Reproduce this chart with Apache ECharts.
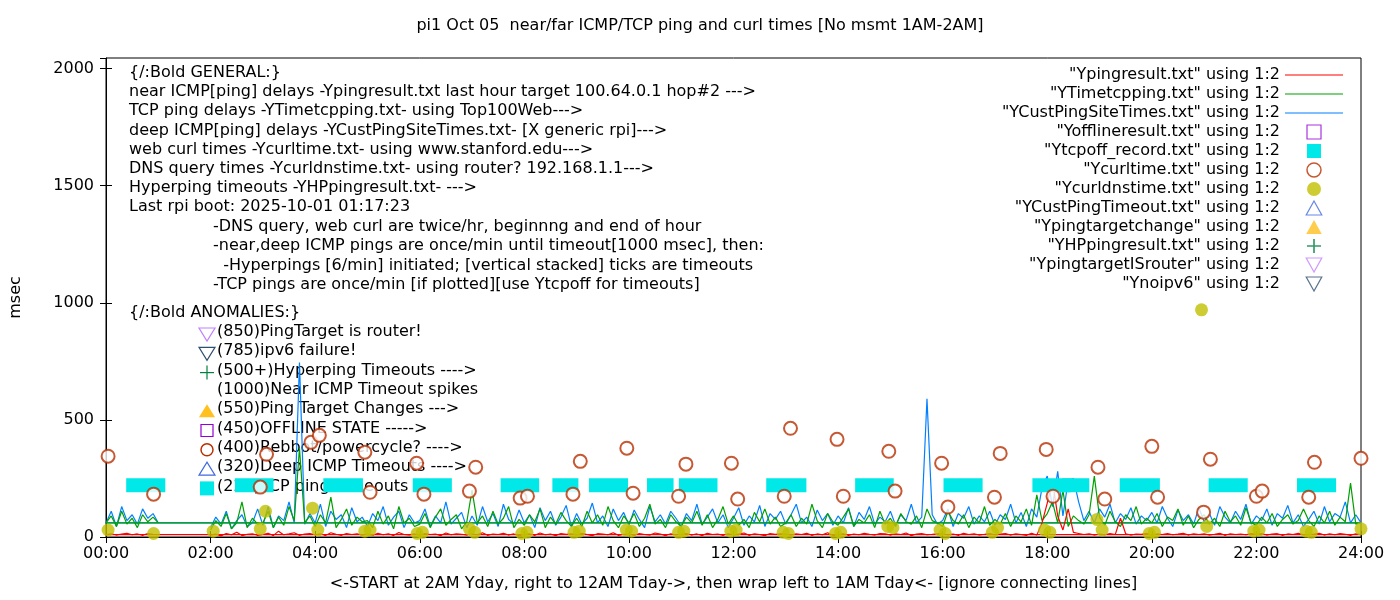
<!DOCTYPE html>
<html>
<head>
<meta charset="utf-8">
<script src="https://cdn.jsdelivr.net/npm/echarts@6/dist/echarts.min.js"></script>
<style>html,body{margin:0;padding:0;background:#fff}#main{width:1400px;height:600px}</style>
</head>
<body>
<div id="main"></div>
<script>
var myChart = echarts.init(document.getElementById('main'));
var FONT = 'DejaVu Sans';
var FS = 16;

// samples every 6 min: 2AM..24:00, then wrap 0:00..1:00
var blue = [
 40,85,55,110,35,70,95,45,60,120,
 50,130,40,90,70,150,60,745,55,100,
 60,140,45,110,75,95,40,125,65,85,
 45,100,70,130,50,85,110,40,95,60,
 70,120,45,90,60,150,55,80,105,40,
 90,50,130,65,100,45,140,75,55,115,
 60,95,40,125,70,110,50,85,135,45,
 100,55,80,145,60,90,45,120,70,105,
 50,115,75,40,130,65,95,55,110,80,
 45,100,70,140,55,85,120,60,95,40,
 80,125,50,90,65,135,45,100,75,110,
 55,95,140,60,85,45,115,70,100,50,
 90,60,125,45,105,75,130,55,85,65,
 110,50,95,70,140,60,85,590,95,55,
 70,120,45,100,80,130,55,90,65,110,
 50,95,75,140,60,105,45,120,85,210,
 260,130,280,90,240,250,150,70,110,60,
 120,85,140,60,100,75,125,55,90,70,
 105,60,130,80,45,115,70,95,55,125,
 65,100,50,130,85,60,110,75,140,55,
 90,70,120,50,100,80,135,60,95,45,
 75,110,55,130,65,100,85,150,60,95,
 60,
 60,110,45,130,70,95,55,120,80,100,
 60];
var green = [
 30,70,45,100,35,60,150,40,80,55,
 60,110,40,85,50,130,70,380,60,90,
 45,95,60,170,40,75,120,50,85,65,
 70,40,110,55,90,35,130,60,80,45,
 55,100,40,85,120,50,75,95,35,65,
 200,60,90,45,110,55,80,130,40,75,
 50,95,65,120,40,85,55,105,70,45,
 80,45,110,60,95,50,130,70,40,90,
 60,100,45,80,140,55,75,40,95,65,
 45,85,60,110,50,95,40,75,130,55,
 90,50,75,40,105,65,120,55,85,45,
 60,95,45,80,55,140,70,40,100,65,
 50,85,120,45,75,60,95,40,110,55,
 80,45,100,65,55,90,40,120,70,60,
 45,110,70,55,95,40,85,60,130,50,
 75,55,100,45,90,65,120,50,180,70,
 100,150,60,200,45,90,70,55,95,260,
 85,50,110,65,45,95,70,130,55,80,
 60,100,45,85,70,120,50,90,40,75,
 95,55,80,45,110,65,90,50,125,60,
 50,85,60,100,45,75,95,55,70,120,
 70,45,90,60,110,50,85,65,230,55,
 60,
 60,90,45,110,55,80,40,95,65,85,
 60];
var red = [
 8,12,5,15,9,20,6,11,14,7,
 10,16,6,25,9,13,18,7,12,15,
 9,14,6,18,11,7,15,10,13,8,
 12,7,16,9,14,6,19,10,8,13,
 7,15,10,12,6,17,9,14,11,8,
 14,9,18,7,12,10,16,8,13,6,
 10,13,7,17,9,12,6,15,11,14,
 8,16,10,6,14,12,9,18,7,11,
 13,7,15,10,8,17,12,6,14,9,
 11,15,8,13,6,16,10,12,7,14,
 9,12,17,7,14,10,6,15,11,13,
 12,8,14,10,16,7,13,9,18,6,
 10,14,7,12,9,16,11,8,15,13,
 8,13,10,17,6,12,15,9,11,14,
 14,9,12,7,16,10,13,8,11,15,
 9,12,15,8,13,10,7,16,8,60,
 145,240,90,30,120,20,15,10,13,8,
 12,9,15,10,80,14,8,12,11,16,
 7,13,10,15,9,12,16,8,14,10,
 13,8,11,16,7,14,10,12,9,15,
 11,15,8,12,14,7,13,10,16,9,
 10,12,16,8,13,9,15,11,7,14,
 10,
 10,14,8,12,16,9,13,7,15,11,
 10];

// curl times (hour, msec)
var curlHour = [0.04,0.91,2.95,3.07,3.92,4.08,4.95,5.05,5.94,6.08,6.95,7.07,7.92,8.06,8.93,9.07,9.96,10.08,10.95,11.09,11.96,12.08,12.97,13.09,13.98,14.1,14.97,15.09,15.98,16.1,16.99,17.1,17.98,18.11,18.97,19.1,20.0,20.11,20.99,21.12,22.0,22.11,23.0,23.11,24.0];
var curlMs = [345,183,213,353,404,434,362,191,315,183,196,298,166,174,183,323,379,187,174,311,315,162,174,464,417,174,366,196,315,128,170,357,374,174,298,162,387,170,106,332,174,196,170,319,336];
// dns times
var dnsHour = [0.04,0.91,2.05,2.95,3.05,3.95,4.05,4.95,5.05,5.95,6.05,6.95,7.05,7.95,8.05,8.95,9.05,9.95,10.05,10.95,11.05,11.95,12.05,12.95,13.05,13.95,14.05,14.95,15.05,15.95,16.05,16.95,17.05,17.95,18.05,18.95,19.05,19.95,20.05,20.95,21.05,21.95,22.05,22.95,23.05,24.0];
var dnsMs = [30,15,25,35,110,123,30,25,30,15,20,35,20,15,20,20,25,30,25,20,25,25,30,20,15,15,20,45,40,30,15,20,40,30,20,75,30,15,20,970,45,25,30,25,20,35];
// TCP ping timeout runs [start hour, end hour], plotted at 221
var tcpStart = [0.52,2.6,4.29,6.0,7.68,8.67,9.37,10.48,11.09,12.76,14.46,16.15,17.85,18.42,19.52,21.22,22.91];
var tcpEnd = [1.0,3.07,4.78,6.48,8.15,8.9,9.85,10.72,11.56,13.26,14.93,16.63,18.32,18.67,20.02,21.7,23.39];
var tcpLevel = 221;

var sampleHours = [];
for (var i = 0; i <= 220; i++) sampleHours.push(2 + i / 10);
for (var j = 0; j <= 10; j++) sampleHours.push(j / 10);
function pairs(ys) { return ys.map(function (v, k) { return [sampleHours[k], v]; }); }
function xy(xs, ys) { return xs.map(function (v, k) { return [v, ys[k]]; }); }

var N = {
    ping: '"Ypingresult.txt" using 1:2',
    tcp: '"YTimetcpping.txt" using 1:2',
    cust: '"YCustPingSiteTimes.txt" using 1:2',
    off: '"Yofflineresult.txt" using 1:2',
    tcpoff: '"Ytcpoff_record.txt" using 1:2',
    curl: '"Ycurltime.txt" using 1:2',
    dns: '"Ycurldnstime.txt" using 1:2',
    custTo: '"YCustPingTimeout.txt" using 1:2',
    tchg: '"Ypingtargetchange" using 1:2',
    hp: '"YHPpingresult.txt" using 1:2',
    isr: '"YpingtargetISrouter" using 1:2',
    v6: '"Ynoipv6" using 1:2'
};
var PLUS = 'path://M4.4,0h1.2v4.4h4.4v1.2h-4.4v4.4h-1.2v-4.4h-4.4v-1.2h4.4z';
var DOWN = 'path://M0,0L10,0L5,9Z';
var UP = 'path://M5,0L10,9L0,9Z';
var SQ = 'path://M0,0h10v10h-10z';
var LINEICON = 'path://M0,0h60v1.2h-60z';

function emptyMark(name, sym, color) {
    return { name: name, type: 'scatter', data: [], symbol: sym, itemStyle: { color: color } };
}

var lines = [
 'near ICMP[ping] delays -Ypingresult.txt last hour target 100.64.0.1 hop#2 --->',
 'TCP ping delays -YTimetcpping.txt- using Top100Web--->',
 'deep ICMP[ping] delays -YCustPingSiteTimes.txt- [X generic rpi]--->',
 'web curl times -Ycurltime.txt- using www.stanford.edu--->',
 'DNS query times -Ycurldnstime.txt- using router? 192.168.1.1--->',
 'Hyperping timeouts -YHPpingresult.txt- --->',
 'Last rpi boot: 2025-10-01 01:17:23'
];
var sub = [
 '-DNS query, web curl are twice/hr, beginnng and end of hour',
 '-near,deep ICMP pings are once/min until timeout[1000 msec], then:',
 '  -Hyperpings [6/min] initiated; [vertical stacked] ticks are timeouts',
 '-TCP pings are once/min [if plotted][use Ytcpoff for timeouts]'
];
var anom = ['(850)PingTarget is router!', '(785)ipv6 failure!', '(500+)Hyperping Timeouts ---->',
 '(1000)Near ICMP Timeout spikes', '(550)Ping Target Changes --->', '(450)OFFLINE STATE ----->',
 '(400)Rebbot/powercycle? ---->', '(320)Deep ICMP Timeouts ---->', '(221)TCP ping Timeouts --->'];

var graphic = [];
function txt(x, y, s) {
    graphic.push({ type: 'text', left: x, top: y, silent: true,
        style: { text: s, font: FS + 'px "' + FONT + '"', fill: '#000' } });
}
txt(129, 65, '{/:Bold GENERAL:}');
lines.forEach(function (s, k) { txt(129, 84 + k * 19.2, s); });
sub.forEach(function (s, k) { txt(213, 219 + k * 19.2, s); });
txt(129, 305, '{/:Bold ANOMALIES:}');
anom.forEach(function (s, k) { txt(217, 324 + k * 19.3, s); });
// keys for anomaly list
function key(k, shape) { var cy = 334 + k * 19.3; shape(207, cy); }
key(0, function (x, y) { graphic.push({ type: 'polygon', shape: { points: [[x - 8, y - 6], [x + 8, y - 6], [x, y + 7]] }, style: { fill: 'none', stroke: '#c080ff', lineWidth: 1.2 } }); });
key(1, function (x, y) { graphic.push({ type: 'polygon', shape: { points: [[x - 8, y - 6], [x + 8, y - 6], [x, y + 7]] }, style: { fill: 'none', stroke: '#2f4f6f', lineWidth: 1.2 } }); });
key(2, function (x, y) { graphic.push({ type: 'polyline', shape: { points: [[x - 7, y], [x + 7, y]] }, style: { stroke: '#008040', lineWidth: 1.2 } }); graphic.push({ type: 'polyline', shape: { points: [[x, y - 7], [x, y + 7]] }, style: { stroke: '#008040', lineWidth: 1.2 } }); });
key(4, function (x, y) { graphic.push({ type: 'polygon', shape: { points: [[x - 8, y + 6], [x + 8, y + 6], [x, y - 7]] }, style: { fill: '#ffc020' } }); });
key(5, function (x, y) { graphic.push({ type: 'rect', shape: { x: x - 6, y: y - 6, width: 12, height: 12 }, style: { fill: 'none', stroke: '#9400d3', lineWidth: 1.2 } }); });
key(6, function (x, y) { graphic.push({ type: 'circle', shape: { cx: x, cy: y, r: 6 }, style: { fill: 'none', stroke: '#b83000', lineWidth: 1.5 } }); });
key(7, function (x, y) { graphic.push({ type: 'polygon', shape: { points: [[x - 8, y + 6], [x + 8, y + 6], [x, y - 7]] }, style: { fill: 'none', stroke: '#4169e1', lineWidth: 1.2 } }); });
key(8, function (x, y) { graphic.push({ type: 'rect', shape: { x: x - 7, y: y - 7, width: 14, height: 14 }, style: { fill: '#00e8e8' } }); });

function hh(v) { var h = Math.round(v); return (h < 10 ? '0' : '') + h + ':00'; }

option = {
    animation: false,
    title: {
        text: 'pi1 Oct 05  near/far ICMP/TCP ping and curl times [No msmt 1AM-2AM]',
        left: 'center', top: 13,
        textStyle: { fontFamily: FONT, fontSize: FS, fontWeight: 'normal', color: '#000' }
    },
    legend: {
        orient: 'vertical', right: 52, top: 62, align: 'right',
        itemWidth: 58, itemHeight: 14, itemGap: 3,
        textStyle: { fontFamily: FONT, fontSize: FS, color: '#000', lineHeight: 14 },
        data: [
            { name: N.ping, icon: LINEICON, itemStyle: { color: '#ff0000' } },
            { name: N.tcp, icon: LINEICON, itemStyle: { color: '#00a000' } },
            { name: N.cust, icon: LINEICON, itemStyle: { color: '#0080ff' } },
            { name: N.off, icon: SQ, itemStyle: { color: '#fff', borderColor: '#9400d3', borderWidth: 1.2 } },
            { name: N.tcpoff, icon: SQ },
            { name: N.curl, icon: 'circle', itemStyle: { color: '#fff', borderColor: '#b83000', borderWidth: 1.5 } },
            { name: N.dns, icon: 'circle' },
            { name: N.custTo, icon: UP, itemStyle: { color: '#fff', borderColor: '#4169e1', borderWidth: 1.2 } },
            { name: N.tchg, icon: UP },
            { name: N.hp, icon: PLUS },
            { name: N.isr, icon: DOWN, itemStyle: { color: '#fff', borderColor: '#c080ff', borderWidth: 1.2 } },
            { name: N.v6, icon: DOWN, itemStyle: { color: '#fff', borderColor: '#2f4f6f', borderWidth: 1.2 } }
        ]
    },
    grid: { left: 101, right: 39, top: 58, bottom: 63, show: true, borderColor: '#000', borderWidth: 1 },
    xAxis: [{
        type: 'value', min: 0, max: 24, interval: 2,
        name: '<-START at 2AM Yday, right to 12AM Tday->, then wrap left to 1AM Tday<- [ignore connecting lines]',
        nameLocation: 'middle', nameGap: 39,
        nameTextStyle: { fontFamily: FONT, fontSize: FS, color: '#000' },
        axisLine: { lineStyle: { color: '#000' } },
        axisTick: { inside: true, length: 6, lineStyle: { color: '#000' } },
        axisLabel: { formatter: hh, fontFamily: FONT, fontSize: FS, color: '#000', margin: 9 },
        splitLine: { show: false }
    }, {
        type: 'value', position: 'top', min: 0, max: 24, interval: 2,
        axisLine: { show: false }, axisLabel: { show: false }, splitLine: { show: false },
        axisTick: { inside: true, length: 6, lineStyle: { color: '#000' } }
    }],
    yAxis: [{
        type: 'value', min: 0, max: 2045, interval: 500,
        name: 'msec', nameLocation: 'middle', nameGap: 82, nameRotate: 90,
        nameTextStyle: { fontFamily: FONT, fontSize: FS, color: '#000' },
        axisLine: { show: true, lineStyle: { color: '#000' } },
        axisTick: { inside: true, length: 6, lineStyle: { color: '#000' } },
        axisLabel: { fontFamily: FONT, fontSize: FS, color: '#000', margin: 12, showMaxLabel: false,
            formatter: function (v) { return v % 500 === 0 ? v : ''; } },
        splitLine: { show: false }
    }, {
        type: 'value', position: 'right', min: 0, max: 2045, interval: 500,
        axisLine: { show: false }, axisLabel: { show: false }, splitLine: { show: false },
        axisTick: { inside: true, length: 6, lineStyle: { color: '#000' } }
    }],
    graphic: graphic,
    series: [
        { name: N.ping, type: 'line', data: pairs(red), symbol: 'none', z: 4,
          lineStyle: { color: '#ff0000', width: 1.2 }, itemStyle: { color: '#ff0000' } },
        { name: N.tcp, type: 'line', data: pairs(green), symbol: 'none', z: 3,
          lineStyle: { color: '#00a000', width: 1.2 }, itemStyle: { color: '#00a000' } },
        { name: N.cust, type: 'line', data: pairs(blue), symbol: 'none', z: 2,
          lineStyle: { color: '#0080ff', width: 1.2 }, itemStyle: { color: '#0080ff' } },
        emptyMark(N.off, SQ, '#9400d3'),
        { name: N.tcpoff, type: 'custom', z: 5, itemStyle: { color: '#00e8e8' },
          data: tcpStart.map(function (s, k) { return [s, tcpEnd[k], tcpLevel]; }),
          renderItem: function (params, api) {
              var a = api.coord([api.value(0), api.value(2)]);
              var b = api.coord([api.value(1), api.value(2)]);
              return { type: 'rect', shape: { x: a[0] - 7, y: a[1] - 7, width: b[0] - a[0] + 14, height: 14 },
                       style: { fill: '#00e8e8' } };
          } },
        { name: N.curl, type: 'scatter', data: xy(curlHour, curlMs), symbol: 'emptyCircle', symbolSize: 13, z: 6,
          itemStyle: { color: '#b83000', borderColor: '#b83000', borderWidth: 1.5 } },
        { name: N.dns, type: 'scatter', data: xy(dnsHour, dnsMs), symbol: 'circle', symbolSize: 13, z: 7,
          itemStyle: { color: '#c0c000' } },
        emptyMark(N.custTo, UP, '#4169e1'),
        emptyMark(N.tchg, UP, '#ffc020'),
        emptyMark(N.hp, PLUS, '#008040'),
        emptyMark(N.isr, DOWN, '#c080ff'),
        emptyMark(N.v6, DOWN, '#2f4f6f')
    ]
};
myChart.setOption(option);
</script>
</body>
</html>
